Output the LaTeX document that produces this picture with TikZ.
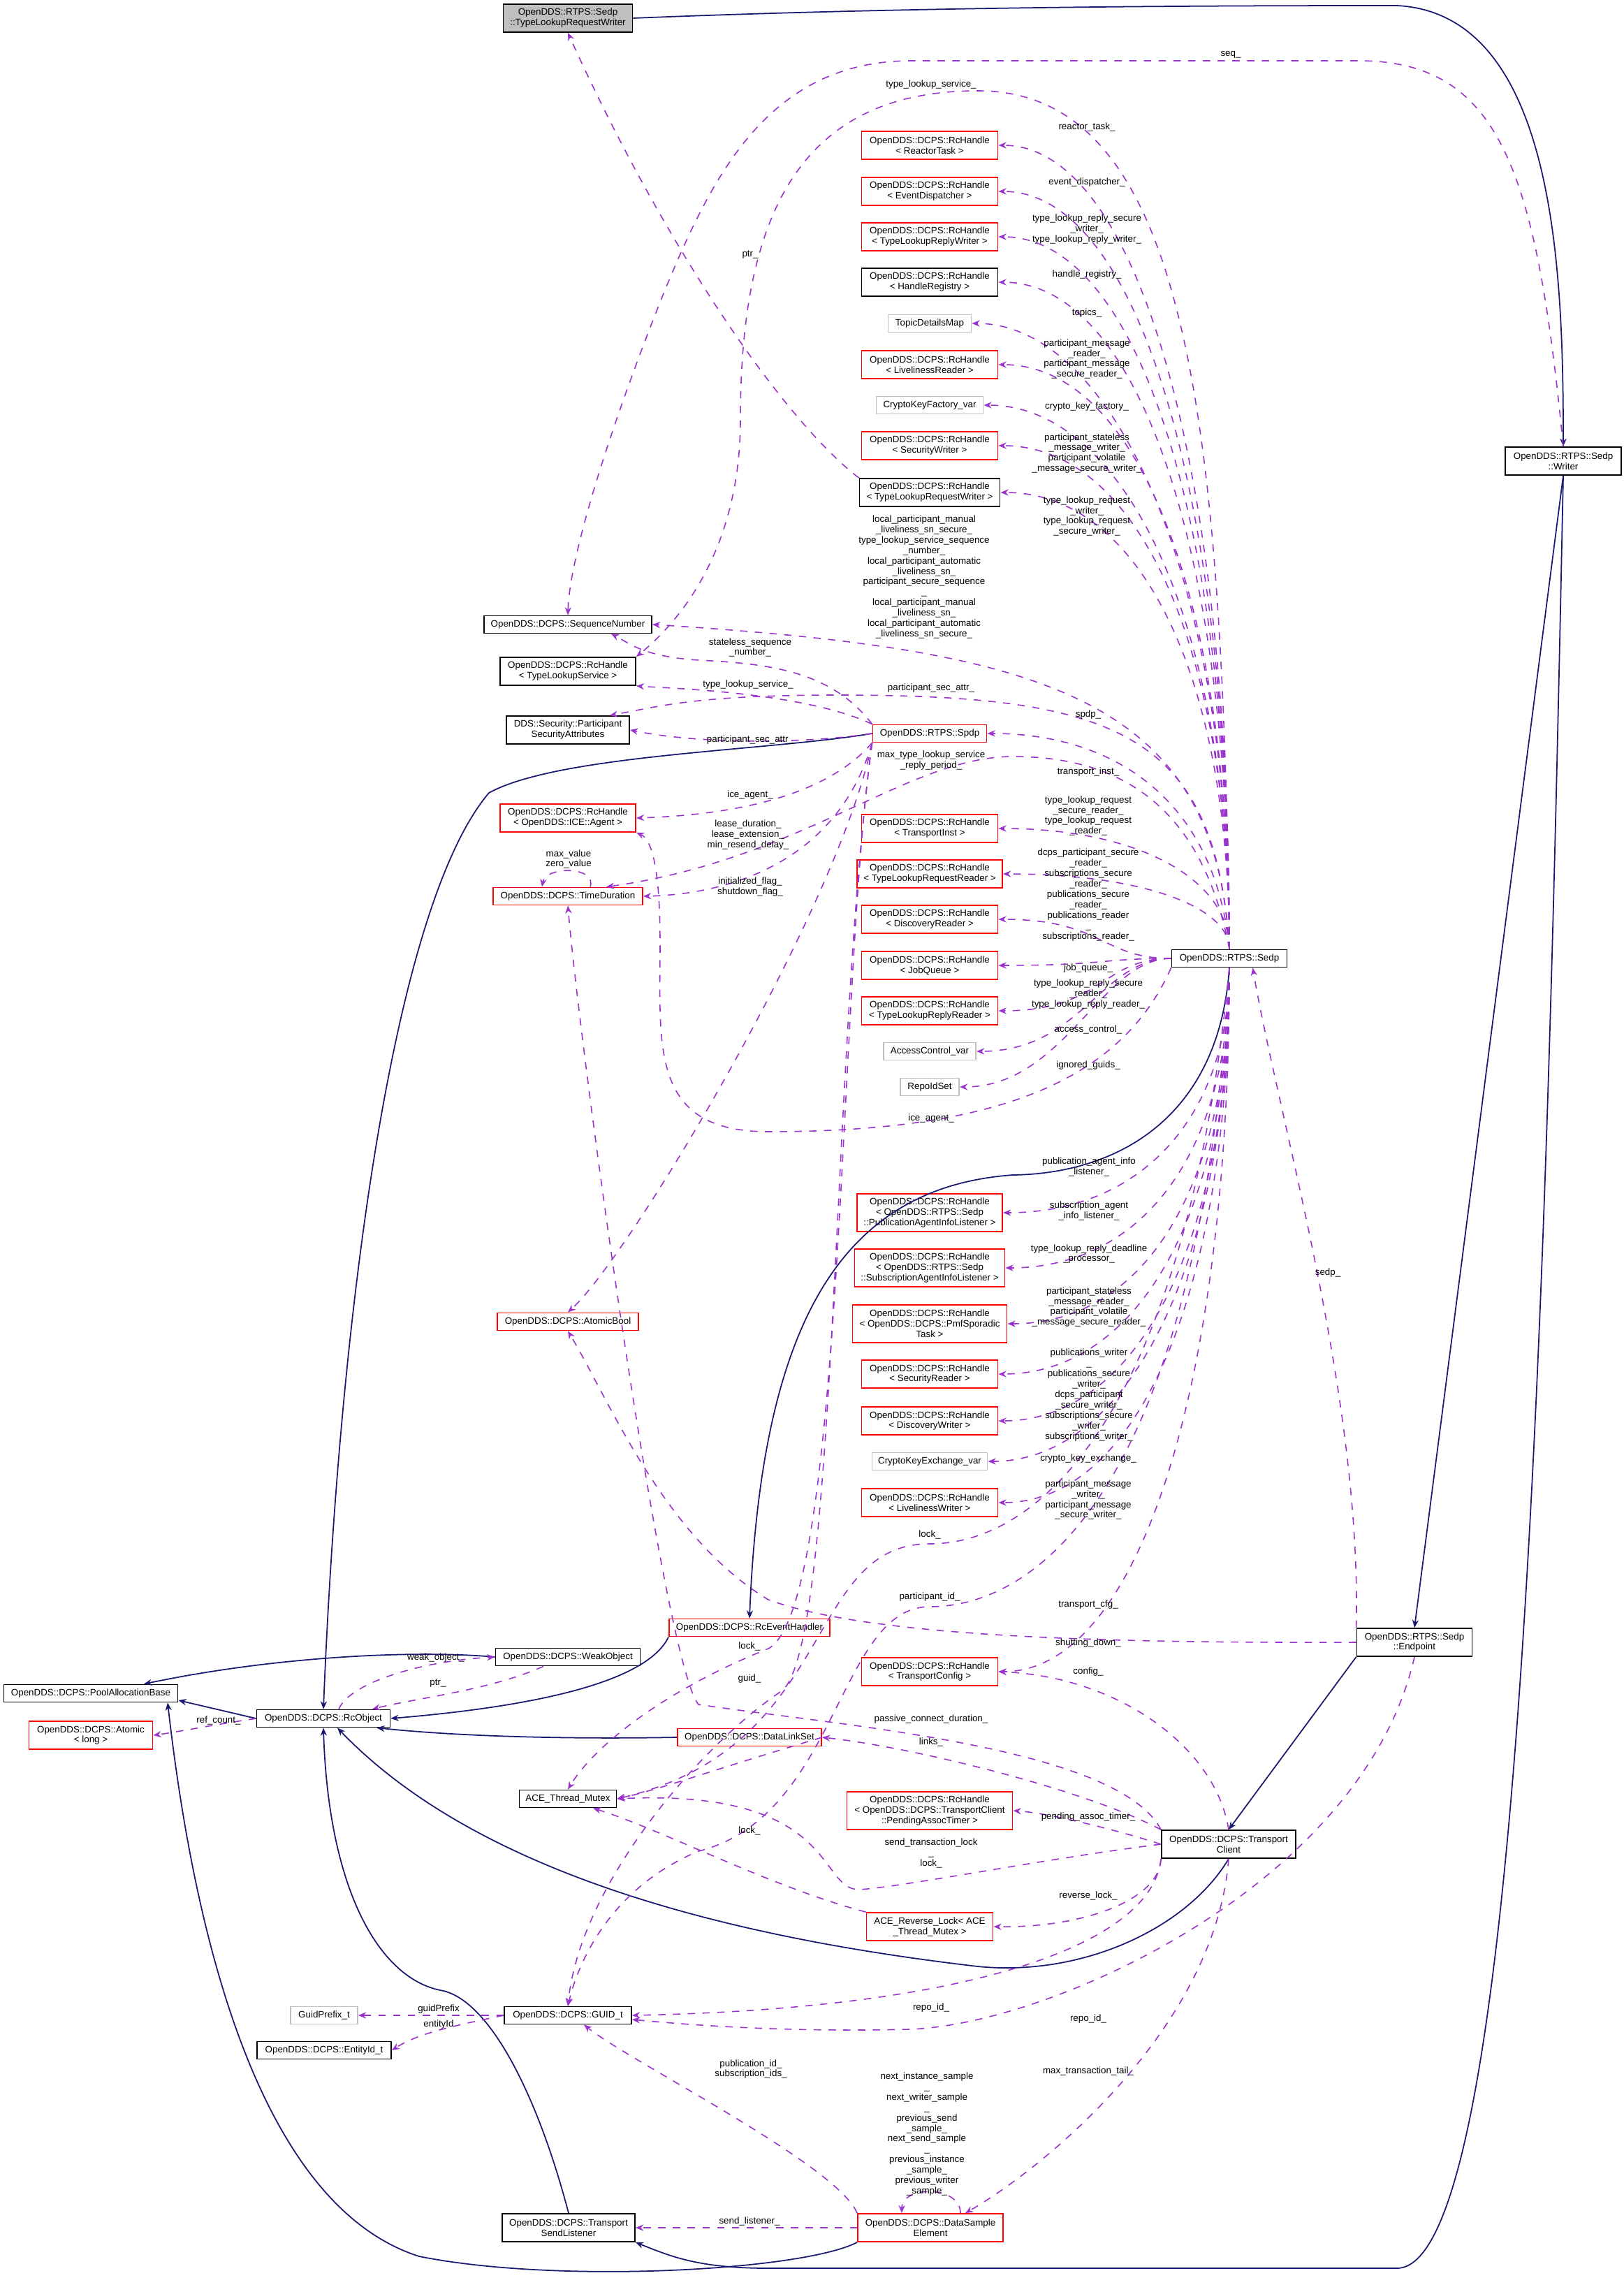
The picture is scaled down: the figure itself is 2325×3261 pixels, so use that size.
\documentclass[tikz,border=0pt]{standalone}
\usepackage{fontspec}
\setmainfont{Liberation Sans}
\usetikzlibrary{arrows.meta,calc}
\definecolor{edgenavy}{RGB}{25,25,112}
\definecolor{edgeviolet}{RGB}{154,50,205}
\definecolor{boxgray}{RGB}{191,191,191}
\begin{document}
\begin{tikzpicture}[x=0.01cm,y=0.01cm,
    cls/.style={draw=black, fill=white, inner sep=0pt, align=center, line width=0.5pt,
      font=\fontsize{3.8}{4.25}\selectfont, minimum height=0.25cm},
    redcls/.style={cls, draw=red},
    graycls/.style={cls, draw=boxgray},
    two/.style={minimum height=0.40cm},
    three/.style={minimum height=0.54cm},
    lbl/.style={inner sep=0pt, align=center, font=\fontsize{3.8}{4.25}\selectfont},
    uses/.style={draw=edgeviolet, dashed, line width=0.45pt, -{Stealth[length=3.2pt,width=2.6pt]}},
    inh/.style={draw=edgenavy, line width=0.5pt, -{Stealth[length=3.2pt,width=2.6pt]}}]
    \useasboundingbox (0,0) rectangle (2325,-3261);

    % the classes
    \node[cls, two, fill=boxgray, minimum width=1.85cm] (tlrw) at (813,-26) {OpenDDS::RTPS::Sedp\\::TypeLookupRequestWriter};
    \node[cls, two, minimum width=1.66cm] (writer) at (2238,-660) {OpenDDS::RTPS::Sedp\\::Writer};
    \node[cls, minimum width=1.65cm] (sedp) at (1760,-1372) {OpenDDS::RTPS::Sedp};
    \node[cls, two, minimum width=1.65cm] (endpoint) at (2025,-2351) {OpenDDS::RTPS::Sedp\\::Endpoint};
    \node[cls, two, minimum width=1.92cm] (tclient) at (1759,-2640) {OpenDDS::DCPS::Transport\\Client};
    \node[redcls, minimum width=1.63cm] (spdp) at (1331,-1050) {OpenDDS::RTPS::Spdp};

    % the handles right of the middle
    \node[redcls, two, minimum width=1.95cm] (rtask) at (1331,-208) {OpenDDS::DCPS::RcHandle\\< ReactorTask >};
    \node[redcls, two, minimum width=1.95cm] (edisp) at (1331,-274) {OpenDDS::DCPS::RcHandle\\< EventDispatcher >};
    \node[redcls, two, minimum width=1.95cm] (tlrepw) at (1331,-339) {OpenDDS::DCPS::RcHandle\\< TypeLookupReplyWriter >};
    \node[cls, two, minimum width=1.95cm] (hreg) at (1331,-404) {OpenDDS::DCPS::RcHandle\\< HandleRegistry >};
    \node[graycls, minimum width=1.19cm] (topics) at (1331,-463) {TopicDetailsMap};
    \node[redcls, two, minimum width=1.95cm] (lread) at (1331,-522) {OpenDDS::DCPS::RcHandle\\< LivelinessReader >};
    \node[graycls, minimum width=1.53cm] (ckf) at (1331,-580) {CryptoKeyFactory\_var};
    \node[redcls, two, minimum width=1.95cm] (secw) at (1331,-638) {OpenDDS::DCPS::RcHandle\\< SecurityWriter >};
    \node[cls, two, minimum width=2.01cm] (rhtlrw) at (1331,-705) {OpenDDS::DCPS::RcHandle\\< TypeLookupRequestWriter >};
    \node[redcls, two, minimum width=1.95cm] (tinst) at (1331,-1186) {OpenDDS::DCPS::RcHandle\\< TransportInst >};
    \node[redcls, two, minimum width=2.08cm] (tlreqr) at (1331,-1251) {OpenDDS::DCPS::RcHandle\\< TypeLookupRequestReader >};
    \node[redcls, two, minimum width=1.95cm] (dread) at (1331,-1316) {OpenDDS::DCPS::RcHandle\\< DiscoveryReader >};
    \node[redcls, two, minimum width=1.95cm] (jobq) at (1331,-1382) {OpenDDS::DCPS::RcHandle\\< JobQueue >};
    \node[redcls, two, minimum width=1.95cm] (tlrepr) at (1331,-1447) {OpenDDS::DCPS::RcHandle\\< TypeLookupReplyReader >};
    \node[graycls, minimum width=1.32cm] (acv) at (1331,-1505) {AccessControl\_var};
    \node[graycls, minimum width=0.84cm] (ridset) at (1331,-1556) {RepoIdSet};
    \node[redcls, three, minimum width=2.08cm] (pail) at (1331,-1736) {OpenDDS::DCPS::RcHandle\\< OpenDDS::RTPS::Sedp\\::PublicationAgentInfoListener >};
    \node[redcls, three, minimum width=2.15cm] (sail) at (1331,-1815) {OpenDDS::DCPS::RcHandle\\< OpenDDS::RTPS::Sedp\\::SubscriptionAgentInfoListener >};
    \node[redcls, three, minimum width=2.21cm] (pmf) at (1331,-1895) {OpenDDS::DCPS::RcHandle\\< OpenDDS::DCPS::PmfSporadic\\Task >};
    \node[redcls, two, minimum width=1.95cm] (secr) at (1331,-1967) {OpenDDS::DCPS::RcHandle\\< SecurityReader >};
    \node[redcls, two, minimum width=1.95cm] (dwrit) at (1331,-2034) {OpenDDS::DCPS::RcHandle\\< DiscoveryWriter >};
    \node[graycls, minimum width=1.65cm] (cke) at (1331,-2092) {CryptoKeyExchange\_var};
    \node[redcls, two, minimum width=1.95cm] (lwrit) at (1331,-2151) {OpenDDS::DCPS::RcHandle\\< LivelinessWriter >};
    \node[redcls, two, minimum width=1.95cm] (tcfg) at (1331,-2393) {OpenDDS::DCPS::RcHandle\\< TransportConfig >};
    \node[redcls, three, minimum width=2.37cm] (pat) at (1331,-2592) {OpenDDS::DCPS::RcHandle\\< OpenDDS::DCPS::TransportClient\\::PendingAssocTimer >};
    \node[redcls, two, minimum width=1.81cm] (rlock) at (1331,-2758) {ACE\_Reverse\_Lock< ACE\\\_Thread\_Mutex >};
    \node[redcls, two, minimum width=2.08cm] (dse) at (1332,-3189) {OpenDDS::DCPS::DataSample\\Element};

    % the middle column
    \node[cls, minimum width=2.40cm] (seqnum) at (813,-894) {OpenDDS::DCPS::SequenceNumber};
    \node[cls, two, minimum width=1.94cm] (tls) at (813,-961) {OpenDDS::DCPS::RcHandle\\< TypeLookupService >};
    \node[cls, two, minimum width=1.76cm] (psa) at (813,-1045) {DDS::Security::Participant\\SecurityAttributes};
    \node[redcls, two, minimum width=1.94cm] (ice) at (813,-1171) {OpenDDS::DCPS::RcHandle\\< OpenDDS::ICE::Agent >};
    \node[redcls, minimum width=2.14cm] (tdur) at (813,-1283) {OpenDDS::DCPS::TimeDuration};
    \node[redcls, minimum width=2.02cm] (abool) at (813,-1892) {OpenDDS::DCPS::AtomicBool};
    \node[redcls, minimum width=2.30cm] (rceh) at (1073,-2330) {OpenDDS::DCPS::RcEventHandler};
    \node[cls, minimum width=2.07cm] (weak) at (813,-2372) {OpenDDS::DCPS::WeakObject};
    \node[redcls, minimum width=2.06cm] (dls) at (1073,-2487) {OpenDDS::DCPS::DataLinkSet};
    \node[cls, minimum width=1.39cm] (ace) at (813,-2575) {ACE\_Thread\_Mutex};
    \node[cls, minimum width=1.82cm] (guid) at (813,-2885) {OpenDDS::DCPS::GUID\_t};
    \node[cls, two, minimum width=1.90cm] (sendl) at (814,-3189) {OpenDDS::DCPS::Transport\\SendListener};

    % the left column
    \node[cls, minimum width=2.49cm] (pool) at (130,-2424) {OpenDDS::DCPS::PoolAllocationBase};
    \node[cls, minimum width=1.91cm] (rcobj) at (463,-2460) {OpenDDS::DCPS::RcObject};
    \node[redcls, two, minimum width=1.77cm] (atomic) at (130,-2484) {OpenDDS::DCPS::Atomic\\< long >};
    \node[graycls, minimum width=0.96cm] (gprefix) at (464,-2885) {GuidPrefix\_t};
    \node[cls, minimum width=1.92cm] (eid) at (464,-2935) {OpenDDS::DCPS::EntityId\_t};

    % inheritance
    \draw[inh] (tlrw.east) .. controls (1300,-10) and (1700,-8) .. (2000,-8) .. controls (2230,-20) and (2238,-400) .. (writer.north);
    \draw[inh] (writer.south) -- (endpoint.north);
    \draw[inh] (endpoint.south west) -- (tclient.north);
    \draw[inh] (writer.south) .. controls (2215,-1800) and (2180,-3247) .. (2000,-3247) -- (1100,-3247) .. controls (1000,-3247) and (960,-3230) .. (sendl.south east);
    \draw[inh] (sedp.south) .. controls (1745,-1600) and (1600,-1680) .. (1450,-1682) .. controls (1200,-1700) and (1090,-1900) .. (rceh.north);
    \draw[inh] (rceh.south west) .. controls (930,-2400) and (800,-2440) .. (rcobj.east);
    \draw[inh] (weak.west) .. controls (600,-2362) and (400,-2370) .. ($(pool.north)+(76,0)$);
    \draw[inh] (rcobj.west) -- ($(pool.east)+(0,-10)$);
    \draw[inh] (dls.west) .. controls (800,-2490) and (650,-2485) .. ($(rcobj.south east)+(-20,0)$);
    \draw[inh] (tclient.south) .. controls (1700,-2760) and (1550,-2830) .. (1400,-2815) .. controls (1100,-2780) and (700,-2700) .. ($(rcobj.south)+(20,0)$);
    \draw[inh] (sendl.north) .. controls (770,-3000) and (700,-2860) .. (630,-2849) .. controls (540,-2830) and (470,-2700) .. (rcobj.south);
    \draw[inh] (spdp.west) .. controls (1100,-1075) and (800,-1080) .. (700,-1135) .. controls (560,-1300) and (485,-1900) .. (rcobj.north);
    \draw[inh] (dse.south west) .. controls (1150,-3250) and (800,-3270) .. (600,-3230) .. controls (350,-3150) and (270,-2700) .. ($(pool.south)+(110,0)$);

    % members of Sedp
    \foreach \n/\u in {rtask/690, edisp/650, tlrepw/610, hreg/570, topics/540, lread/500, ckf/470, secw/430, rhtlrw/390, tinst/100, tlreqr/60}
      \draw[uses] (sedp.north) .. controls +(0,\u) and +(200,0) .. (\n.east);
    \foreach \n in {dread, jobq, tlrepr, acv, ridset}
      \draw[uses] (sedp.west) .. controls +(-100,0) and +(150,0) .. (\n.east);
    \foreach \n/\u in {pail/210, sail/258, pmf/306, secr/350, dwrit/390, cke/424, lwrit/460, tcfg/600}
      \draw[uses] (sedp.south) .. controls +(0,-\u) and +(200,0) .. (\n.east);
    \draw[uses] (sedp.north) .. controls (1740,-1000) and (1500,-930) .. (seqnum.east);
    \draw[uses] (sedp.north) .. controls (1750,-600) and (1700,-130) .. (1400,-130) .. controls (1150,-130) and (1060,-300) .. (1060,-600) .. controls (1060,-800) and (960,-900) .. (tls.north east);
    \draw[uses] (sedp.north) .. controls (1740,-1050) and (1600,-995) .. (1200,-995) .. controls (1000,-995) and (950,-1010) .. ($(psa.north)+(60,0)$);
    \draw[uses] (sedp.north) .. controls (1740,-1150) and (1600,-1050) .. (spdp.east);
    \draw[uses] (sedp.north) .. controls (1720,-1150) and (1600,-1083) .. (1450,-1083) .. controls (1300,-1083) and (1150,-1230) .. ($(tdur.north)+(55,0)$);
    \draw[uses] (sedp.south west) .. controls (1600,-1560) and (1400,-1620) .. (1100,-1620) .. controls (930,-1620) and (945,-1500) .. (945,-1350) .. controls (945,-1230) and (930,-1200) .. (ice.south east);
    \draw[uses] (sedp.south) .. controls (1700,-2000) and (1500,-2210) .. (1331,-2210) .. controls (1150,-2210) and (1200,-2500) .. (ace.east);
    \draw[uses] (sedp.south) .. controls (1720,-2100) and (1500,-2300) .. (1331,-2300) .. controls (1200,-2300) and (1200,-2600) .. (1000,-2650) .. controls (880,-2700) and (830,-2800) .. (guid.north);
    \draw[uses] (writer.north) .. controls (2200,-250) and (2150,-90) .. (1950,-87) -- (1300,-87) .. controls (1100,-90) and (1020,-250) .. (950,-420) .. controls (870,-620) and (815,-800) .. (seqnum.north);
    \draw[uses] (rhtlrw.north west) .. controls (1120,-600) and (950,-350) .. (tlrw.south);

    % members of Spdp
    \draw[uses] (spdp.north west) .. controls (1190,-960) and (1100,-950) .. (1000,-945) .. controls (920,-940) and (900,-920) .. ($(seqnum.south)+(62,0)$);
    \draw[uses] (spdp.north west) .. controls (1150,-990) and (950,-985) .. (tls.south east);
    \draw[uses] (spdp.west) .. controls (1150,-1065) and (1000,-1065) .. (psa.east);
    \draw[uses] (spdp.south west) .. controls (1200,-1120) and (1100,-1165) .. (ice.east);
    \draw[uses] (spdp.south west) .. controls (1200,-1230) and (1050,-1280) .. (tdur.east);
    \draw[uses] (spdp.south west) .. controls (1200,-1300) and (900,-1800) .. (abool.north);
    \draw[uses] (spdp.south west) .. controls (1200,-1400) and (1210,-2300) .. (1100,-2360) .. controls (950,-2420) and (850,-2500) .. (ace.north);
    \draw[uses] (spdp.south west) .. controls (1190,-1500) and (1200,-2350) .. (1120,-2420) .. controls (1000,-2500) and (830,-2700) .. (guid.north);
    \draw[uses] ($(tdur.north)+(32,0)$) .. controls +(10,30) and +(5,30) .. ($(tdur.north)+(-37,0)$);

    % members of Endpoint and TransportClient
    \draw[uses] (endpoint.north west) .. controls (1950,-2000) and (1830,-1600) .. ($(sedp.south east)+(-50,0)$);
    \draw[uses] (endpoint.west) .. controls (1600,-2352) and (1250,-2345) .. (1100,-2290) .. controls (950,-2200) and (870,-2000) .. (abool.south);
    \draw[uses] (endpoint.south) .. controls (1950,-2700) and (1500,-2900) .. (1300,-2905) .. controls (1100,-2910) and (950,-2895) .. ($(guid.east)+(0,-6)$);
    \draw[uses] (tclient.north) .. controls (1740,-2500) and (1600,-2400) .. (tcfg.east);
    \draw[uses] (tclient.north west) .. controls (1600,-2500) and (1200,-2470) .. (1000,-2440) .. controls (950,-2380) and (830,-1500) .. (tdur.south);
    \draw[uses] (tclient.north west) .. controls (1550,-2560) and (1300,-2500) .. (dls.east);
    \draw[uses] (tclient.west) .. controls (1600,-2620) and (1500,-2595) .. (pat.east);
    \draw[uses] (tclient.west) .. controls (1500,-2660) and (1300,-2700) .. (1230,-2705) .. controls (1170,-2705) and (1200,-2560) .. (ace.east);
    \draw[uses] (tclient.south west) .. controls (1660,-2720) and (1550,-2760) .. (rlock.east);
    \draw[uses] (tclient.south west) .. controls (1650,-2780) and (1400,-2875) .. (guid.east);
    \draw[uses] (tclient.south) .. controls (1740,-2900) and (1500,-3100) .. ($(dse.north)+(50,0)$);

    % members of the smaller classes
    \draw[uses] (dse.north west) .. controls (1200,-3100) and (900,-2950) .. ($(guid.south)+(23,0)$);
    \draw[uses] ($(dse.north)+(43,0)$) .. controls +(0,40) and +(0,40) .. ($(dse.north)+(-41,0)$);
    \draw[uses] (dse.west) -- (sendl.east);
    \draw[uses] (dls.east) .. controls (1000,-2540) and (950,-2560) .. (ace.east);
    \draw[uses] (rlock.north west) .. controls (1100,-2700) and (950,-2620) .. ($(ace.south)+(36,0)$);
    \draw[uses] (guid.west) -- (gprefix.east);
    \draw[uses] (guid.west) .. controls (650,-2900) and (600,-2910) .. (eid.east);
    \draw[uses] (rcobj.west) .. controls (300,-2470) and (250,-2480) .. (atomic.east);
    \draw[uses] ($(rcobj.north)+(22,0)$) .. controls (500,-2410) and (600,-2378) .. (weak.west);
    \draw[uses] ($(weak.south)+(-35,0)$) .. controls (700,-2420) and (600,-2430) .. ($(rcobj.north)+(70,0)$);

    % the labels
    \node[lbl] (lseq) at (1762,-78) {seq\_};
    \node[lbl] (ltls) at (1333,-121) {type\_lookup\_service\_};
    \node[lbl] (lrtask) at (1556,-182) {reactor\_task\_};
    \node[lbl] (ledisp) at (1556,-261) {event\_dispatcher\_};
    \node[lbl] (ltlrepw) at (1556,-328) {type\_lookup\_reply\_secure\\\_writer\_\\type\_lookup\_reply\_writer\_};
    \node[lbl] (lptr) at (1074,-365) {ptr\_};
    \node[lbl] (lhreg) at (1556,-393) {handle\_registry\_};
    \node[lbl] (ltopics) at (1556,-448) {topics\_};
    \node[lbl] (llread) at (1556,-514) {participant\_message\\\_reader\_\\participant\_message\\\_secure\_reader\_};
    \node[lbl] (lckf) at (1556,-582) {crypto\_key\_factory\_};
    \node[lbl] (lsecw) at (1556,-649) {participant\_stateless\\\_message\_writer\_\\participant\_volatile\\\_message\_secure\_writer\_};
    \node[lbl] (lrhtlrw) at (1556,-739) {type\_lookup\_request\\\_writer\_\\type\_lookup\_request\\\_secure\_writer\_};
    \node[lbl] (lseqnum) at (1323,-826) {local\_participant\_manual\\\_liveliness\_sn\_secure\_\\type\_lookup\_service\_sequence\\\_number\_\\local\_participant\_automatic\\\_liveliness\_sn\_\\participant\_secure\_sequence\\\_\\local\_participant\_manual\\\_liveliness\_sn\_\\local\_participant\_automatic\\\_liveliness\_sn\_secure\_};
    \node[lbl] (lsspdp) at (1074,-927) {stateless\_sequence\\\_number\_};
    \node[lbl] (ltls2) at (1071,-980) {type\_lookup\_service\_};
    \node[lbl] (lpsa) at (1333,-985) {participant\_sec\_attr\_};
    \node[lbl] (lspdp) at (1558,-1023) {spdp\_};
    \node[lbl] (lpsa2) at (1074,-1059) {participant\_sec\_attr\_};
    \node[lbl] (lmaxtl) at (1333,-1089) {max\_type\_lookup\_service\\\_reply\_period\_};
    \node[lbl] (ltinst) at (1558,-1105) {transport\_inst\_};
    \node[lbl] (lice) at (1074,-1138) {ice\_agent\_};
    \node[lbl] (ltlreqr) at (1558,-1168) {type\_lookup\_request\\\_secure\_reader\_\\type\_lookup\_request\\\_reader\_};
    \node[lbl] (llease) at (1071,-1195) {lease\_duration\_\\lease\_extension\_\\min\_resend\_delay\_};
    \node[lbl] (lmaxval) at (814,-1230) {max\_value\\zero\_value};
    \node[lbl] (lflags) at (1074,-1270) {initialized\_flag\_\\shutdown\_flag\_};
    \node[lbl] (ldread) at (1558,-1281) {dcps\_participant\_secure\\\_reader\_\\subscriptions\_secure\\\_reader\_\\publications\_secure\\\_reader\_\\publications\_reader\\\_\\subscriptions\_reader\_};
    \node[lbl] (ljobq) at (1558,-1386) {job\_queue\_};
    \node[lbl] (ltlrepr) at (1558,-1423) {type\_lookup\_reply\_secure\\\_reader\_\\type\_lookup\_reply\_reader\_};
    \node[lbl] (lacv) at (1558,-1474) {access\_control\_};
    \node[lbl] (lridset) at (1558,-1525) {ignored\_guids\_};
    \node[lbl] (lice2) at (1333,-1601) {ice\_agent\_};
    \node[lbl] (lpail) at (1559,-1670) {publication\_agent\_info\\\_listener\_};
    \node[lbl] (lsail) at (1559,-1733) {subscription\_agent\\\_info\_listener\_};
    \node[lbl] (lpmf) at (1559,-1795) {type\_lookup\_reply\_deadline\\\_processor\_};
    \node[lbl] (lsedp) at (1901,-1822) {sedp\_};
    \node[lbl] (lsecr) at (1559,-1871) {participant\_stateless\\\_message\_reader\_\\participant\_volatile\\\_message\_secure\_reader\_};
    \node[lbl] (ldwrit) at (1559,-1997) {publications\_writer\\\_\\publications\_secure\\\_writer\_\\dcps\_participant\\\_secure\_writer\_\\subscriptions\_secure\\\_writer\_\\subscriptions\_writer\_};
    \node[lbl] (lcke) at (1558,-2088) {crypto\_key\_exchange\_};
    \node[lbl] (llwrit) at (1558,-2147) {participant\_message\\\_writer\_\\participant\_message\\\_secure\_writer\_};
    \node[lbl] (llock) at (1331,-2197) {lock\_};
    \node[lbl] (lpid) at (1331,-2286) {participant\_id\_};
    \node[lbl] (ltcfg) at (1558,-2297) {transport\_cfg\_};
    \node[lbl] (lshut) at (1558,-2352) {shutting\_down\_};
    \node[lbl] (llock2) at (1073,-2357) {lock\_};
    \node[lbl] (lweak) at (624,-2373) {weak\_object\_};
    \node[lbl] (lconfig) at (1558,-2393) {config\_};
    \node[lbl] (lguid) at (1073,-2403) {guid\_};
    \node[lbl] (lptr2) at (627,-2410) {ptr\_};
    \node[lbl] (lpcd) at (1333,-2461) {passive\_connect\_duration\_};
    \node[lbl] (lref) at (313,-2463) {ref\_count\_};
    \node[lbl] (llinks) at (1333,-2494) {links\_};
    \node[lbl] (lpat) at (1558,-2601) {pending\_assoc\_timer\_};
    \node[lbl] (llock3) at (1073,-2621) {lock\_};
    \node[lbl] (lstl) at (1333,-2653) {send\_transaction\_lock\\\_\\lock\_};
    \node[lbl] (lrlock) at (1558,-2714) {reverse\_lock\_};
    \node[lbl] (lrepo) at (1333,-2874) {repo\_id\_};
    \node[lbl] (lgp) at (628,-2876) {guidPrefix};
    \node[lbl] (lrepo2) at (1558,-2890) {repo\_id\_};
    \node[lbl] (leid) at (628,-2898) {entityId};
    \node[lbl] (lpubid) at (1075,-2962) {publication\_id\_\\subscription\_ids\_};
    \node[lbl] (lmtt) at (1558,-2965) {max\_transaction\_tail\_};
    \node[lbl] (ldse) at (1327,-3055) {next\_instance\_sample\\\_\\next\_writer\_sample\\\_\\previous\_send\\\_sample\_\\next\_send\_sample\\\_\\previous\_instance\\\_sample\_\\previous\_writer\\\_sample\_};
    \node[lbl] (lsendl) at (1073,-3180) {send\_listener\_};
\end{tikzpicture}
\end{document}
